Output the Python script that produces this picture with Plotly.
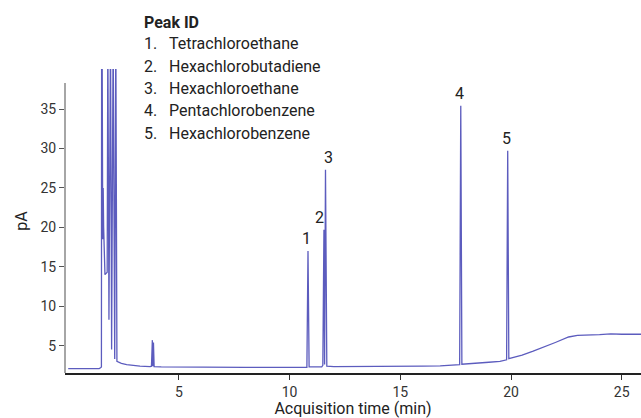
import plotly.graph_objects as go

# Chromatogram key points (time in min, signal in pA)
time_min = [0.00, 1.40, 1.46, 1.50, 1.51, 1.53, 1.56, 1.58, 1.60, 1.66, 1.76,
            1.77, 1.79, 1.84, 1.89, 1.91, 1.96, 2.01, 2.03, 2.10, 2.13, 2.15,
            2.20, 2.40, 2.64, 3.00, 3.24, 3.70, 3.76, 3.80, 3.82, 3.85, 3.88,
            4.20, 6.00, 8.00, 10.00, 10.78, 10.83, 10.88, 11.45, 11.50, 11.55,
            11.58, 11.62, 11.68, 12.00, 14.00, 16.00, 16.80, 17.68, 17.73, 17.78,
            19.00, 19.50, 19.80, 19.85, 19.90, 20.50, 21.00, 21.50, 22.00,
            22.60, 23.00, 24.00, 24.50, 25.00, 26.00]
signal_pA = [2.10, 2.10, 2.20, 2.30, 45.0, 45.0, 18.5, 25.0, 20.0, 14.0, 14.3,
             45.0, 45.0, 8.3, 45.0, 45.0, 4.5, 45.0, 45.0, 3.3, 45.0, 45.0,
             3.00, 2.75, 2.60, 2.45, 2.40, 2.35, 2.40, 5.70, 2.40, 5.40, 2.35,
             2.30, 2.25, 2.25, 2.25, 2.25, 17.0, 2.30, 2.30, 2.50, 19.7,
             2.60, 27.3, 2.40, 2.35, 2.35, 2.40, 2.45, 2.60, 35.4, 2.65,
             2.90, 3.00, 3.20, 29.7, 3.35, 3.80, 4.30, 4.90, 5.40,
             6.10, 6.30, 6.40, 6.50, 6.45, 6.45]

peak_numbers = ["1", "2", "3", "4", "5"]
peak_names = ["Tetrachloroethane", "Hexachlorobutadiene", "Hexachloroethane",
              "Pentachlorobenzene", "Hexachlorobenzene"]
peak_times = [10.75, 11.35, 11.76, 17.67, 19.80]
peak_heights = [17.0, 19.7, 27.3, 35.4, 29.7]

x_ticks = [5, 10, 15, 20, 25]
y_ticks = [5, 10, 15, 20, 25, 30, 35]

FONT = "Roboto, Liberation Sans, sans-serif"

fig = go.Figure()
fig.add_trace(go.Scatter(x=time_min, y=signal_pA, mode="lines",
                         line=dict(color="#5c5cbe", width=1.3),
                         hoverinfo="skip", showlegend=False))

# peak number labels above peaks
for n, t, h in zip(peak_numbers, peak_times, peak_heights):
    fig.add_annotation(x=t, y=h, text=n, showarrow=False, yanchor="bottom",
                       yshift=1, font=dict(size=16, color="#222", family=FONT))

# Peak ID block
fig.add_annotation(xref="paper", yref="paper", x=(142 - 65) / 576, y=1 + (69 - 22) / 304,
                   text="<b>Peak ID</b>", showarrow=False, xanchor="left", yanchor="middle",
                   font=dict(size=16, color="#222", family=FONT))
for i, (n, name) in enumerate(zip(peak_numbers, peak_names)):
    ypx = 44 + i * 22.3
    yp = 1 + (69 - ypx) / 304
    fig.add_annotation(xref="paper", yref="paper", x=(142 - 65) / 576, y=yp,
                       text=n + ".", showarrow=False, xanchor="left", yanchor="middle",
                       font=dict(size=16, color="#222", family=FONT))
    fig.add_annotation(xref="paper", yref="paper", x=(167 - 65) / 576, y=yp,
                       text=name, showarrow=False, xanchor="left", yanchor="middle",
                       font=dict(size=16, color="#222", family=FONT))

# y axis line drawn only up to the axis top
fig.add_shape(type="line", xref="paper", yref="y", x0=0, x1=0, y0=1.535, y1=38.3,
              line=dict(color="#888", width=1.5))

fig.update_layout(
    width=641, height=418,
    margin=dict(l=65, r=0, t=69, b=45),
    paper_bgcolor="white", plot_bgcolor="white",
    font=dict(family=FONT, size=14, color="#333"),
    xaxis=dict(range=[-0.145, 25.87], tickvals=x_ticks, ticks="outside", ticklen=5,
               tickcolor="#333", showline=True, linecolor="#222", linewidth=1.5,
               showgrid=False, zeroline=False,
               title=dict(text="Acquisition time (min)", standoff=2,
                          font=dict(size=16, color="#222"))),
    yaxis=dict(range=[1.535, 40.07], tickvals=y_ticks, ticks="outside", ticklen=5,
               tickcolor="#555", showline=False, showgrid=False, zeroline=False,
               title=dict(text="pA", standoff=8, font=dict(size=16, color="#222"))),
)

fig.write_html("out.html", config={"displayModeBar": False},
               post_script="document.body.style.margin='0px';document.body.style.overflow='hidden';")
